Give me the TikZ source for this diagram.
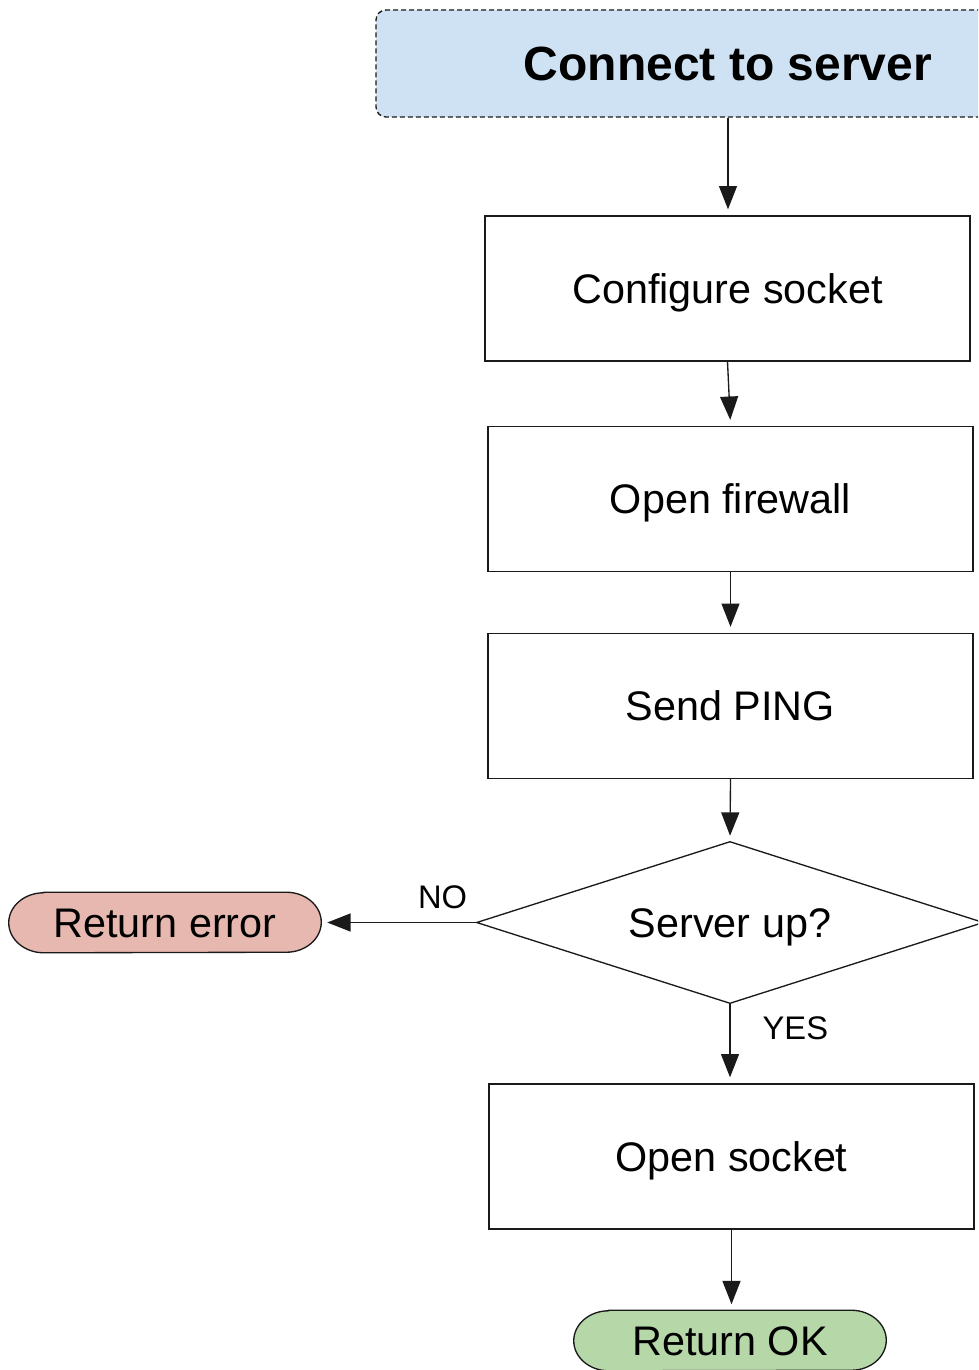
\documentclass[tikz,border=0pt]{standalone}
\usepackage{fontspec}
\setmainfont{Liberation Sans}
\usetikzlibrary{arrows.meta,backgrounds}

\definecolor{startblue}{HTML}{CFE2F3}
\definecolor{errred}{HTML}{E6B8AF}
\definecolor{okgreen}{HTML}{B6D7A8}
\definecolor{edgeink}{HTML}{1A1A1A}

% outline of a terminal node: straight top/bottom with elliptical caps
\newcommand\termoutline[2]{%
  \begin{scope}[on background layer]
    \filldraw[draw=edgeink, line width=1pt, fill=#2]
      ([xshift=26.25pt]#1.north west) -- ([xshift=-26.25pt]#1.north east)
      arc[start angle=90, end angle=-90, x radius=26.25pt, y radius=22.5pt]
      -- ([xshift=26.25pt]#1.south west)
      arc[start angle=270, end angle=90, x radius=26.25pt, y radius=22.5pt]
      -- cycle;
  \end{scope}}

% outline of a decision node through its four side anchors
\newcommand\decoutline[1]{%
  \draw[draw=edgeink, line width=1pt]
    (#1.north) -- (#1.east) -- (#1.south) -- (#1.west) -- cycle;}

\begin{document}
\begin{tikzpicture}[x=0.75pt, y=-0.75pt,
    every node/.style={font=\fontsize{31pt}{37pt}\selectfont, text=black,
      text height=22.2pt, text depth=0pt},
    process/.style={draw=edgeink, line width=1pt, rectangle,
      minimum width=363.75pt, minimum height=108.75pt, inner sep=0pt},
    decision/.style={rectangle, minimum width=379.5pt, minimum height=120.75pt, inner sep=0pt},
    terminal/.style={rectangle, minimum width=234pt, minimum height=45pt, inner sep=0pt},
    startbox/.style={draw=edgeink, line width=1pt, dash pattern=on 3.75pt off 2.25pt,
      rounded corners=7.5pt, fill=startblue, minimum width=528pt, minimum height=80.25pt,
      font=\fontsize{36pt}{43pt}\selectfont\bfseries, text height=25.8pt},
    flow/.style={draw=edgeink, line width=1pt,
      -{Triangle[length=17.5pt, width=13.5pt]}, shorten >=4.5pt},
    branch/.style={font=\fontsize{24.5pt}{29pt}\selectfont, inner sep=0pt, text height=17.5pt}
  ]
  \useasboundingbox (0,0) rectangle (978,1370);
  \clip (0,0) rectangle (978,1370);

  % start of the procedure
  \node[startbox] (start) at (728,63.5) {Connect to server};

  % sequential steps
  \node[process] (cfg)  at (727.5,288.5) {Configure socket};
  \node[process] (fw)   at (730.5,499)   {Open firewall};
  \node[process] (ping) at (730.5,706)   {Send PING};

  % server check
  \node[decision] (up) at (730,922.5) {Server up?};
  \decoutline{up}

  % outcomes
  \node[terminal] (err) at (165,922.5) {Return error};
  \termoutline{err}{errred}
  \node[process] (sock) at (731.5,1156.5) {Open socket};
  \node[terminal] (ok) at (730,1340.5) {Return OK};
  \termoutline{ok}{okgreen}

  % connectors
  \draw[flow] (start.south) -- (start.south |- cfg.north);
  \draw[flow] (cfg.south) -- (fw.north);
  \draw[flow] (fw.south) -- (ping.north);
  \draw[flow] (ping.south) -- (up.north);
  \draw[flow] (up.west) -- node[branch, pos=0.22, above=9.75pt] (nolbl) {NO} (err.east);
  \draw[flow] (up.south) -- node[branch, pos=0.31, anchor=west, xshift=24pt] (yeslbl) {YES} (up.south |- sock.north);
  \draw[flow] (sock.south) -- (sock.south |- ok.north);
\end{tikzpicture}
\end{document}
